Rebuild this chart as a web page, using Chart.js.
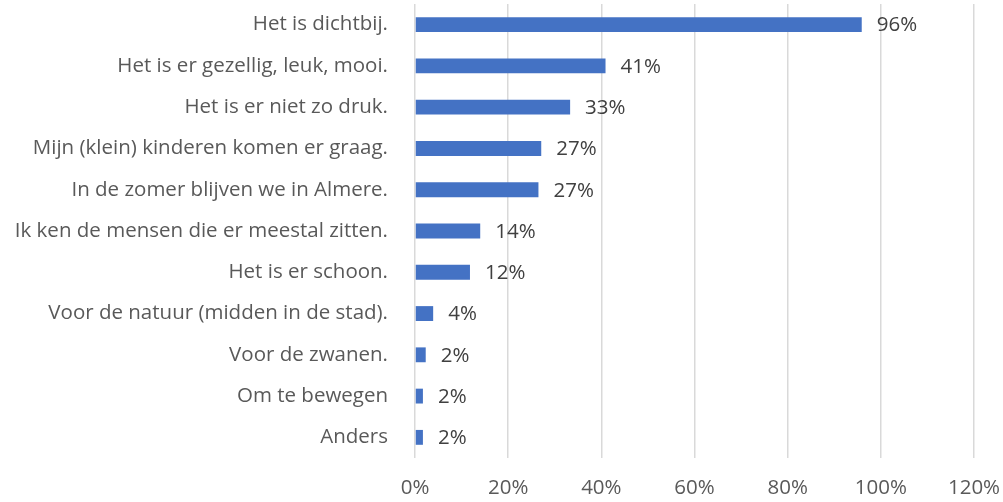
<!DOCTYPE html>
<html>
<head>
<meta charset="utf-8">
<script src="https://cdn.jsdelivr.net/npm/chart.js@4"></script>
<style>
  html, body { margin: 0; padding: 0; background: #fff; }
  #wrap { width: 1003px; height: 502px; position: relative; }
</style>
</head>
<body>
<div id="wrap"><canvas id="chart"></canvas></div>
<script>
const categories = [
  "Het is dichtbij.",
  "Het is er gezellig, leuk, mooi.",
  "Het is er niet zo druk.",
  "Mijn (klein) kinderen komen er graag.",
  "In de zomer blijven we in Almere.",
  "Ik ken de mensen die er meestal zitten.",
  "Het is er schoon.",
  "Voor de natuur (midden in de stad).",
  "Voor de zwanen.",
  "Om te bewegen",
  "Anders"
];
const values = [95.9, 40.9, 33.3, 27.1, 26.5, 14.0, 11.8, 3.9, 2.3, 1.7, 1.7];
const valueLabels = ["96%", "41%", "33%", "27%", "27%", "14%", "12%", "4%", "2%", "2%", "2%"];
const xTicks = [0, 20, 40, 60, 80, 100, 120];

const FONT = "'Open Sans'";
const FONT_SIZE = 20.5;

// draws the percentage next to each bar
const barLabels = {
  id: "barLabels",
  afterDatasetsDraw(chart) {
    const ctx = chart.ctx;
    const meta = chart.getDatasetMeta(0);
    ctx.save();
    ctx.font = FONT_SIZE + "px " + FONT;
    ctx.fillStyle = "#404040";
    ctx.textAlign = "left";
    ctx.textBaseline = "middle";
    meta.data.forEach((bar, i) => {
      ctx.fillText(valueLabels[i], bar.x + 15, bar.y + 1);
    });
    ctx.restore();
  }
};

new Chart(document.getElementById("chart"), {
  type: "bar",
  data: {
    labels: categories,
    datasets: [{
      data: values,
      backgroundColor: "#4472C4",
      borderWidth: 0,
      categoryPercentage: 1,
      barPercentage: 0.36
    }]
  },
  options: {
    indexAxis: "y",
    responsive: true,
    maintainAspectRatio: false,
    animation: false,
    layout: { padding: { top: 4, right: 29, left: 0, bottom: 0 } },
    plugins: {
      legend: { display: false },
      tooltip: { enabled: false }
    },
    scales: {
      x: {
        min: 0,
        max: 120,
        afterBuildTicks(scale) {
          scale.ticks = xTicks.map(v => ({ value: v }));
        },
        afterFit(scale) {
          scale.height = 44;
          scale.paddingLeft = 0;
          scale.paddingRight = 0;
        },
        border: { display: false },
        grid: { color: "#d9d9d9", lineWidth: 1.5, drawTicks: false },
        ticks: {
          padding: 18,
          color: "#595959",
          font: { family: FONT, size: FONT_SIZE },
          callback: v => v + "%"
        }
      },
      y: {
        afterFit(scale) {
          scale.width = 415;
          scale.paddingTop = 0;
          scale.paddingBottom = 0;
        },
        border: { display: false },
        grid: { display: false },
        ticks: {
          padding: 19,
          color: "#595959",
          font: { family: FONT, size: FONT_SIZE }
        }
      }
    }
  },
  plugins: [barLabels]
});
</script>
</body>
</html>
